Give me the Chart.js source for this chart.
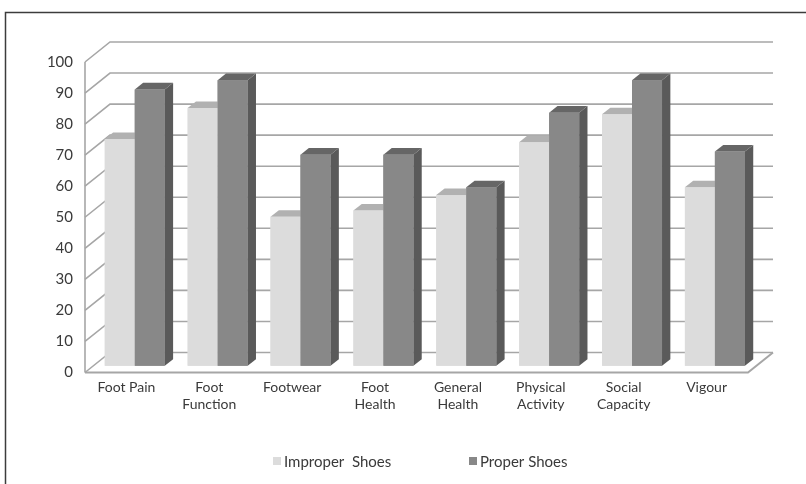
<!DOCTYPE html>
<html>
<head>
<meta charset="utf-8">
<script src="https://cdn.jsdelivr.net/npm/chart.js@4.4.1/dist/chart.umd.min.js"></script>
<style>
  html, body { margin: 0; padding: 0; background: #ffffff; }
  #wrap { width: 806px; height: 484px; position: relative; }
</style>
</head>
<body>
<div id="wrap"><canvas id="c" width="806" height="484"></canvas></div>
<script>
// ---- data ----
const categories = [
  ["Foot Pain"], ["Foot", "Function"], ["Footwear"], ["Foot", "Health"],
  ["General", "Health"], ["Physical", "Activity"], ["Social", "Capacity"], ["Vigour"]
];
const seriesNames = ["Improper  Shoes", "Proper Shoes"];
const improperShoes = [73, 83, 48, 50, 55, 72, 81, 57.5];
const properShoes = [89, 92, 68, 68, 57.5, 81.5, 92, 69];
const yTicks = [0, 10, 20, 30, 40, 50, 60, 70, 80, 90, 100];

// ---- style ----
const DEPTH_X = 25, DEPTH_Y = -20;          // wall depth offset
const FONT = "Lato, 'Open Sans', sans-serif";
const faces = [
  { front: "#dcdcdc", top: "#b1b1b1", side: "#a4a4a4" },
  { front: "#888888", top: "#666666", side: "#5a5a5a" }
];
const gridColor = "#a6a6a6";

const threeD = {
  id: "threeD",
  beforeDraw(chart) {
    const ctx = chart.ctx;
    ctx.save();
    ctx.fillStyle = "#ffffff";
    ctx.fillRect(0, 0, chart.width, chart.height);
    ctx.strokeStyle = "#3c3c3c";
    ctx.lineWidth = 1.5;
    ctx.beginPath();
    ctx.moveTo(5.5, chart.height);
    ctx.lineTo(5.5, 12.5);
    ctx.lineTo(chart.width, 12.5);
    ctx.stroke();
    ctx.restore();
  },
  beforeDatasetsDraw(chart) {
    const ctx = chart.ctx, a = chart.chartArea, ys = chart.scales.y;
    ctx.save();
    ctx.strokeStyle = gridColor;
    ctx.lineWidth = 1.6;
    yTicks.forEach(v => {
      const yf = ys.getPixelForValue(v);
      ctx.beginPath();
      ctx.moveTo(a.left, yf);
      ctx.lineTo(a.left + DEPTH_X, yf + DEPTH_Y);
      ctx.lineTo(a.right + DEPTH_X, yf + DEPTH_Y);
      ctx.stroke();
    });
    // front axis line
    ctx.beginPath();
    ctx.moveTo(a.left, ys.getPixelForValue(100));
    ctx.lineTo(a.left, ys.getPixelForValue(0));
    ctx.stroke();
    // floor
    const y0 = ys.getPixelForValue(0);
    ctx.lineWidth = 2;
    ctx.beginPath();
    ctx.moveTo(a.left, y0);
    ctx.lineTo(a.right, y0);
    ctx.lineTo(a.right + DEPTH_X, y0 + DEPTH_Y);
    ctx.stroke();
    ctx.restore();
    ctx.save();
    ctx.translate(DEPTH_X / 3, DEPTH_Y / 3);
  },
  afterDatasetsDraw(chart) {
    const ctx = chart.ctx;
    const dx = DEPTH_X / 3, dy = DEPTH_Y / 3;
    const n = chart.data.labels.length;
    for (let i = 0; i < n; i++) {
      for (let d = 0; d < chart.data.datasets.length; d++) {
        const el = chart.getDatasetMeta(d).data[i];
        const L = el.x - el.width / 2, R = el.x + el.width / 2, T = el.y, B = el.base;
        const f = faces[d];
        // side
        ctx.fillStyle = f.side;
        ctx.beginPath();
        ctx.moveTo(R, B); ctx.lineTo(R + dx, B + dy); ctx.lineTo(R + dx, T + dy); ctx.lineTo(R, T);
        ctx.closePath(); ctx.fill();
        // top
        ctx.fillStyle = f.top;
        ctx.beginPath();
        ctx.moveTo(L, T); ctx.lineTo(L + dx, T + dy); ctx.lineTo(R + dx, T + dy); ctx.lineTo(R, T);
        ctx.closePath(); ctx.fill();
        // front
        ctx.fillStyle = f.front;
        ctx.fillRect(L, T, R - L, B - T);
      }
    }
    ctx.restore();
  },
  afterDraw(chart) {
    const ctx = chart.ctx;
    ctx.save();
    ctx.font = "15px " + FONT;
    ctx.textBaseline = "middle";
    ctx.textAlign = "left";
    const boxX = [273, 469];
    chart.data.datasets.forEach((ds, d) => {
      ctx.fillStyle = faces[d].front;
      ctx.fillRect(boxX[d], 457, 8, 8);
      ctx.fillStyle = "#3a3a3a";
      ctx.fillText(ds.label, boxX[d] + 11, 462);
    });
    ctx.restore();
  }
};

new Chart(document.getElementById("c"), {
  type: "bar",
  data: {
    labels: categories,
    datasets: [
      { label: seriesNames[0], data: improperShoes, backgroundColor: faces[0].front, borderWidth: 0 },
      { label: seriesNames[1], data: properShoes, backgroundColor: faces[1].front, borderWidth: 0 }
    ]
  },
  options: {
    responsive: false,
    animation: false,
    events: [],
    layout: { padding: { top: 62, right: 58, left: 0, bottom: 0 } },
    plugins: { legend: { display: false }, tooltip: { enabled: false } },
    datasets: { bar: { categoryPercentage: 0.724, barPercentage: 1.0 } },
    scales: {
      x: {
        grid: { display: false, drawTicks: false },
        border: { display: false },
        ticks: { color: "#3a3a3a", font: { family: FONT, size: 14 }, padding: 7, maxRotation: 0, autoSkip: false },
        afterFit(s) { s.height = 111.5; }
      },
      y: {
        min: 0, max: 100,
        grid: { display: false, drawTicks: false },
        border: { display: false },
        ticks: { stepSize: 10, color: "#3a3a3a", font: { family: FONT, size: 15 }, padding: 12 },
        afterFit(s) { s.width = 85; }
      }
    }
  },
  plugins: [threeD]
});
</script>
</body>
</html>
